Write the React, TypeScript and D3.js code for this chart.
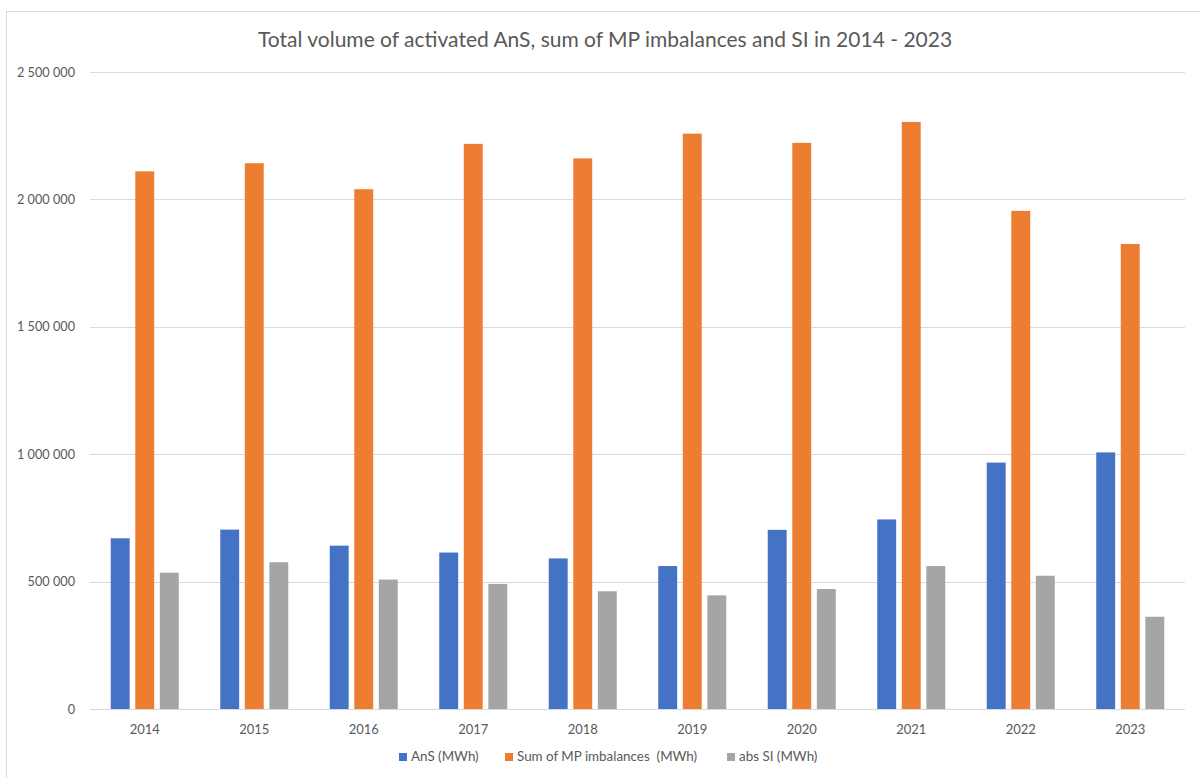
import { useEffect, useRef } from 'react';
import * as d3 from 'd3';

const years = ['2014', '2015', '2016', '2017', '2018', '2019', '2020', '2021', '2022', '2023'];
const ansValues = [670000, 704000, 641000, 614000, 591000, 561000, 703000, 744000, 967000, 1007000];
const mpImbalances = [2110000, 2142000, 2040000, 2218000, 2161000, 2258000, 2222000, 2304000, 1955000, 1825000];
const absSI = [535000, 576000, 508000, 491000, 462000, 446000, 471000, 561000, 523000, 362000];
const seriesNames = ['AnS (MWh)', 'Sum of MP imbalances  (MWh)', 'abs SI (MWh)'];
const seriesColors = ['#4472c4', '#ed7d31', '#a5a5a5'];
const yTicks = [0, 500000, 1000000, 1500000, 2000000, 2500000];

const App = () => {
  const svgRef = useRef<SVGSVGElement>(null);

  useEffect(() => {
    const width = 1200;
    const height = 778;
    const margin = { top: 72, right: 15, bottom: 69, left: 90 };
    const font = 'Lato, "Open Sans", sans-serif';

    if (!svgRef.current) return;
    const svg = d3.select(svgRef.current);
    svg.selectAll('*').remove();
    svg.attr('width', width).attr('height', height);

    svg.append('rect')
      .attr('width', width).attr('height', height).attr('fill', '#fff');
    // chart frame
    svg.append('rect')
      .attr('x', 6.5).attr('y', 11.5)
      .attr('width', width).attr('height', height)
      .attr('fill', 'none').attr('stroke', '#d9d9d9');

    svg.append('text')
      .attr('x', 605).attr('y', 47)
      .attr('text-anchor', 'middle')
      .attr('font-family', font).attr('font-size', 21)
      .attr('fill', '#595959')
      .text('Total volume of activated AnS, sum of MP imbalances and SI in 2014 - 2023');

    const x0 = d3.scaleBand()
      .domain(years)
      .range([margin.left, width - margin.right]);

    const x1 = d3.scaleBand()
      .domain(seriesNames)
      .range([0, 68])
      .paddingInner(0.23);

    const y = d3.scaleLinear()
      .domain([0, 2500000])
      .range([height - margin.bottom, margin.top]);

    const fmt = (v: number) => d3.format(',')(v).replace(/,/g, ' ');

    const grid = svg.append('g');
    grid.selectAll('line')
      .data(yTicks)
      .enter()
      .append('line')
      .attr('x1', margin.left).attr('x2', width - margin.right)
      .attr('y1', d => Math.round(y(d)) + 0.5).attr('y2', d => Math.round(y(d)) + 0.5)
      .attr('stroke', '#d9d9d9').attr('stroke-width', 1.2);

    grid.selectAll('text')
      .data(yTicks)
      .enter()
      .append('text')
      .attr('x', 75).attr('y', d => y(d) + 4.5)
      .attr('text-anchor', 'end')
      .attr('font-family', font).attr('font-size', 12.7)
      .attr('fill', '#595959')
      .text(d => fmt(d));

    const table = years.map((yr, i) => ({
      year: yr,
      values: [ansValues[i], mpImbalances[i], absSI[i]],
    }));

    const groups = svg.append('g')
      .selectAll('g')
      .data(table)
      .enter()
      .append('g')
      .attr('transform', d => `translate(${(x0(d.year) ?? 0) + x0.bandwidth() / 2 - 34},0)`);

    groups.selectAll('rect')
      .data(d => d.values.map((v, i) => ({ name: seriesNames[i], value: v, color: seriesColors[i] })))
      .enter()
      .append('rect')
      .attr('x', d => x1(d.name) ?? 0)
      .attr('y', d => y(d.value))
      .attr('width', x1.bandwidth())
      .attr('height', d => y(0) - y(d.value))
      .attr('fill', d => d.color);

    svg.append('g')
      .selectAll('text')
      .data(years)
      .enter()
      .append('text')
      .attr('x', d => (x0(d) ?? 0) + x0.bandwidth() / 2)
      .attr('y', 734)
      .attr('text-anchor', 'middle')
      .attr('font-family', font).attr('font-size', 13)
      .attr('fill', '#595959')
      .text(d => d);

    // legend
    const legendX = [399, 505, 727];
    const legend = svg.append('g')
      .selectAll('g')
      .data(seriesNames)
      .enter()
      .append('g')
      .attr('transform', (_d, i) => `translate(${legendX[i]},761)`);
    legend.append('rect')
      .attr('x', 0).attr('y', -8)
      .attr('width', 8).attr('height', 8)
      .attr('fill', (_d, i) => seriesColors[i]);
    legend.append('text')
      .attr('x', 12).attr('y', 0)
      .attr('font-family', font).attr('font-size', 13.4)
      .attr('fill', '#595959')
      .attr('xml:space', 'preserve')
      .style('white-space', 'pre')
      .text(d => d);
  }, []);

  return <svg ref={svgRef} style={{ display: 'block', position: 'absolute', left: 0, top: 0 }}></svg>;
};

export default App;
